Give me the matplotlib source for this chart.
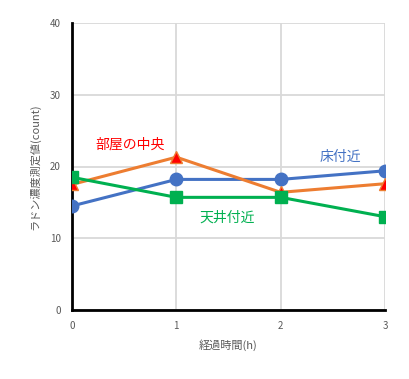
import matplotlib
matplotlib.use("Agg")
import matplotlib.pyplot as plt

plt.rcParams['font.family'] = ['Noto Sans CJK JP', 'DejaVu Sans']

hours = [0, 1, 2, 3]
floor = [14.5, 18.2, 18.2, 19.4]      # 床付近
center = [17.5, 21.3, 16.4, 17.6]     # 部屋の中央
ceiling = [18.5, 15.7, 15.7, 13.0]    # 天井付近
xticks = [0, 1, 2, 3]
yticks = [0, 10, 20, 30, 40]

fig = plt.figure(figsize=(4.1, 3.79), dpi=100)
ax = fig.add_axes([72/410, 1-310/379, (385-72)/410, (310-23)/379])

ax.plot(hours, floor, color='#4472C4', lw=2.2, marker='o', ms=9,
        markerfacecolor='#4472C4', markeredgecolor='#4472C4', zorder=3)
ax.plot(hours, center, color='#ED7D31', lw=2.2, marker='^', ms=8,
        markerfacecolor='#FF0000', markeredgecolor='#ED7D31', markeredgewidth=1, zorder=3)
ax.plot(hours, ceiling, color='#00B050', lw=2.2, marker='s', ms=8,
        markerfacecolor='#00B050', markeredgecolor='#00B050', zorder=4)

ax.set_xlim(0, 3)
ax.set_ylim(0, 40)
ax.set_xticks(xticks)
ax.set_yticks(yticks)
ax.grid(True, color='#D9D9D9', lw=1.3)
ax.set_axisbelow(True)
for s in ['top', 'right']:
    ax.spines[s].set_visible(False)
for s in ['left', 'bottom']:
    ax.spines[s].set_color('black')
    ax.spines[s].set_linewidth(2)
ax.tick_params(length=0, labelsize=7, labelcolor='#595959', pad=8)

ax.set_xlabel('経過時間(h)', fontsize=8, color='#595959', labelpad=6)
ax.set_ylabel('ラドン濃度測定値(count)', fontsize=8, color='#595959', labelpad=7)

ax.text(0.56, 23.1, '部屋の中央', color='#FF0000', fontsize=10, ha='center', va='center')
ax.text(2.57, 21.4, '床付近', color='#4472C4', fontsize=10, ha='center', va='center')
ax.text(1.49, 12.9, '天井付近', color='#00B050', fontsize=10, ha='center', va='center')

fig.savefig('out.png', dpi=100)
